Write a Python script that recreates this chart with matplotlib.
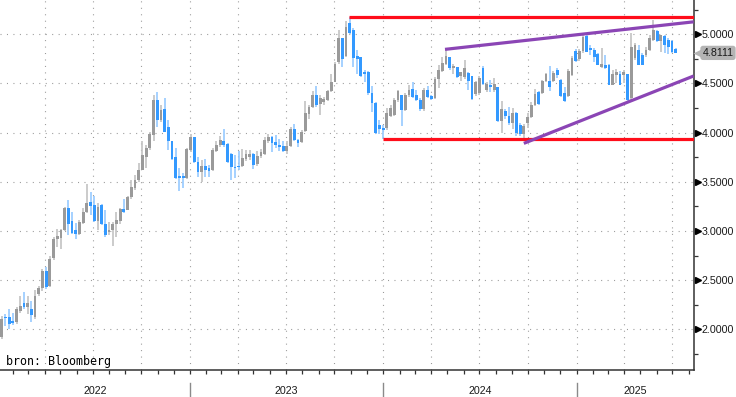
import matplotlib
matplotlib.use('Agg')
import matplotlib.pyplot as plt
import matplotlib.dates as mdates
from matplotlib.ticker import FixedLocator, FormatStrFormatter, NullFormatter
import numpy as np
import pandas as pd

plt.rcParams['lines.scale_dashes'] = False

# ---- weekly OHLC ----
opens = [1.92, 2.13, 2.12, 2.08, 2.07, 2.19, 2.27, 2.23, 2.21, 2.12,
         2.36, 2.42, 2.59, 2.44, 2.72, 2.92, 2.93, 3.01, 3.23, 3.10,
         3.01, 2.97, 3.08, 3.19, 3.29, 3.26, 3.10, 3.26, 3.07, 2.99,
         3.01, 3.07, 3.10, 3.22, 3.21, 3.35, 3.44, 3.52, 3.62, 3.75,
         3.84, 3.98, 4.33, 4.13, 4.24, 4.06, 3.92, 3.75, 3.56, 3.56,
         3.54, 3.82, 3.96, 3.70, 3.60, 3.66, 3.64, 3.62, 3.81, 3.87,
         3.91, 3.88, 3.78, 3.65, 3.66, 3.66, 3.73, 3.75, 3.78, 3.68,
         3.76, 3.78, 3.91, 3.96, 3.90, 3.87, 3.86, 3.81, 3.86, 4.04,
         3.93, 3.90, 4.02, 4.19, 4.26, 4.38, 4.29, 4.31, 4.33, 4.42,
         4.52, 4.72, 4.96, 4.78, 5.11, 5.04, 4.78, 4.77, 4.62, 4.62,
         4.40, 4.30, 4.08, 4.05, 4.05, 4.17, 4.18, 4.33, 4.38, 4.23,
         4.38, 4.44, 4.38, 4.33, 4.24, 4.43, 4.37, 4.35, 4.55, 4.63,
         4.70, 4.77, 4.66, 4.67, 4.58, 4.57, 4.61, 4.58, 4.39, 4.40,
         4.66, 4.43, 4.48, 4.43, 4.46, 4.12, 4.22, 4.17, 4.10, 4.20,
         4.08, 3.99, 4.10, 4.16, 4.28, 4.41, 4.40, 4.53, 4.53, 4.53,
         4.64, 4.54, 4.40, 4.37, 4.59, 4.83, 4.75, 4.83, 4.98, 4.86,
         4.84, 4.80, 4.67, 4.69, 4.69, 4.48, 4.59, 4.60, 4.59, 4.60,
         4.35, 4.76, 4.84, 4.79, 4.79, 4.84, 4.94, 5.03, 4.93, 4.98,
         4.94, 4.93, 4.85]
highs = [2.14, 2.16, 2.21, 2.17, 2.23, 2.34, 2.38, 2.34, 2.29, 2.40,
         2.44, 2.61, 2.63, 2.75, 2.94, 3.02, 3.02, 3.24, 3.31, 3.19,
         3.08, 3.11, 3.23, 3.48, 3.40, 3.36, 3.28, 3.27, 3.21, 3.09,
         3.09, 3.19, 3.23, 3.33, 3.36, 3.52, 3.57, 3.69, 3.91, 3.87,
         4.01, 4.38, 4.41, 4.28, 4.35, 4.13, 3.92, 3.84, 3.64, 3.59,
         3.84, 3.99, 3.96, 3.75, 3.72, 3.73, 3.67, 3.84, 3.92, 3.97,
         4.04, 3.89, 3.79, 3.77, 3.81, 3.83, 3.82, 3.82, 3.79, 3.81,
         3.83, 3.96, 3.99, 3.97, 3.98, 3.94, 3.91, 3.91, 4.06, 4.09,
         3.94, 4.03, 4.32, 4.28, 4.42, 4.47, 4.38, 4.36, 4.43, 4.60,
         4.72, 5.04, 4.96, 5.14, 5.18, 5.06, 4.84, 4.77, 4.64, 4.63,
         4.47, 4.31, 4.13, 4.08, 4.25, 4.28, 4.35, 4.43, 4.38, 4.40,
         4.48, 4.51, 4.43, 4.35, 4.45, 4.47, 4.38, 4.57, 4.69, 4.77,
         4.85, 4.77, 4.70, 4.67, 4.62, 4.74, 4.62, 4.58, 4.53, 4.58,
         4.68, 4.51, 4.54, 4.56, 4.46, 4.32, 4.24, 4.26, 4.25, 4.21,
         4.10, 4.09, 4.20, 4.31, 4.44, 4.42, 4.54, 4.61, 4.68, 4.63,
         4.66, 4.55, 4.46, 4.65, 4.78, 4.85, 4.85, 5.00, 4.99, 4.89,
         4.86, 4.81, 4.86, 4.79, 4.70, 4.64, 4.65, 4.63, 4.64, 4.60,
         5.01, 4.91, 4.89, 4.81, 4.87, 4.99, 5.15, 5.04, 4.99, 4.99,
         4.96, 4.94, 4.86]
lows = [1.90, 2.03, 2.00, 2.04, 2.05, 2.17, 2.21, 2.16, 2.07, 2.10,
        2.34, 2.39, 2.41, 2.43, 2.70, 2.84, 2.82, 3.00, 2.96, 2.97,
        2.92, 2.96, 3.07, 3.18, 3.16, 3.09, 3.01, 3.06, 2.94, 2.96,
        2.85, 2.94, 3.07, 3.18, 3.21, 3.33, 3.42, 3.50, 3.62, 3.64,
        3.82, 3.92, 4.06, 4.11, 4.01, 3.82, 3.72, 3.53, 3.41, 3.44,
        3.53, 3.80, 3.69, 3.55, 3.50, 3.55, 3.55, 3.61, 3.80, 3.85,
        3.85, 3.69, 3.52, 3.54, 3.62, 3.65, 3.71, 3.72, 3.63, 3.66,
        3.74, 3.77, 3.89, 3.80, 3.84, 3.81, 3.80, 3.78, 3.85, 3.91,
        3.85, 3.89, 4.01, 4.14, 4.25, 4.26, 4.18, 4.28, 4.32, 4.41,
        4.52, 4.70, 4.67, 4.77, 5.00, 4.67, 4.60, 4.57, 4.52, 4.38,
        4.21, 3.99, 3.99, 3.94, 4.03, 4.16, 4.17, 4.31, 4.07, 4.22,
        4.36, 4.35, 4.32, 4.22, 4.22, 4.35, 4.33, 4.34, 4.45, 4.62,
        4.69, 4.64, 4.60, 4.56, 4.53, 4.55, 4.43, 4.33, 4.37, 4.38,
        4.48, 4.41, 4.41, 4.41, 4.11, 4.00, 4.14, 4.08, 4.04, 3.97,
        3.97, 3.95, 4.05, 4.15, 4.27, 4.28, 4.39, 4.51, 4.42, 4.51,
        4.56, 4.36, 4.31, 4.36, 4.58, 4.72, 4.73, 4.81, 4.82, 4.79,
        4.72, 4.69, 4.66, 4.65, 4.48, 4.48, 4.50, 4.48, 4.50, 4.32,
        4.33, 4.74, 4.69, 4.69, 4.77, 4.83, 4.93, 4.92, 4.82, 4.81,
        4.80, 4.81, 4.81]
closes = [2.10, 2.11, 2.05, 2.06, 2.21, 2.24, 2.23, 2.27, 2.15, 2.34,
          2.42, 2.59, 2.43, 2.71, 2.92, 2.95, 3.01, 3.23, 3.07, 2.98,
          2.97, 3.09, 3.19, 3.28, 3.25, 3.10, 3.24, 3.07, 2.96, 3.01,
          3.07, 3.11, 3.22, 3.19, 3.35, 3.45, 3.52, 3.62, 3.77, 3.84,
          3.99, 4.33, 4.13, 4.23, 4.01, 3.92, 3.73, 3.54, 3.54, 3.54,
          3.83, 3.96, 3.70, 3.60, 3.66, 3.62, 3.61, 3.82, 3.87, 3.93,
          3.87, 3.70, 3.65, 3.64, 3.65, 3.74, 3.78, 3.78, 3.67, 3.76,
          3.80, 3.93, 3.96, 3.89, 3.87, 3.85, 3.81, 3.86, 4.04, 3.93,
          3.89, 4.01, 4.20, 4.26, 4.38, 4.28, 4.35, 4.34, 4.42, 4.52,
          4.70, 4.96, 4.75, 5.07, 5.01, 4.76, 4.75, 4.58, 4.60, 4.40,
          4.30, 4.00, 4.04, 4.03, 4.20, 4.25, 4.33, 4.42, 4.23, 4.38,
          4.43, 4.36, 4.33, 4.24, 4.43, 4.36, 4.34, 4.55, 4.64, 4.71,
          4.78, 4.66, 4.68, 4.57, 4.62, 4.66, 4.53, 4.34, 4.51, 4.56,
          4.49, 4.49, 4.46, 4.49, 4.12, 4.24, 4.17, 4.10, 4.20, 4.00,
          3.99, 4.07, 4.16, 4.28, 4.39, 4.29, 4.53, 4.60, 4.46, 4.61,
          4.59, 4.37, 4.32, 4.63, 4.76, 4.73, 4.83, 4.97, 4.82, 4.84,
          4.77, 4.69, 4.70, 4.66, 4.48, 4.60, 4.62, 4.48, 4.62, 4.33,
          4.87, 4.89, 4.69, 4.69, 4.84, 4.96, 5.04, 4.93, 4.99, 4.89,
          4.87, 4.82, 4.8111]
dates = pd.date_range('2022-01-10', periods=len(closes), freq='7D')

y_ticks = [2.0, 2.5, 3.0, 3.5, 4.0, 4.5, 5.0]
y_minor = [1.75, 2.25, 2.75, 3.25, 3.75, 4.25, 4.75, 5.25]
years = ['2022', '2023', '2024', '2025']
last_price = 4.8111

# resistance / support and channel lines (start date, start level, end date, end level)
red_top = ('2023-10-29', 5.18, '2025-08-11', 5.18)
red_bottom = ('2023-12-31', 3.94, '2025-08-11', 3.94)
purple_upper = ('2024-04-27', 4.847, '2025-08-10', 5.127)
purple_lower = ('2024-09-23', 3.891, '2025-08-10', 4.576)

x_start, x_end = '2022-01-06 19:00', '2025-08-10 17:00'

# ---- figure ----
fig = plt.figure(figsize=(7.36, 3.97), dpi=100)
ax = fig.add_axes([0, 27 / 397, 694 / 736, 370 / 397])

o = np.array(opens); h = np.array(highs); l = np.array(lows); c = np.array(closes)
x = mdates.date2num(dates)
up = c >= o

wick_cols = np.where(up, '#c2c2c2', '#96c9ff')
body_cols = np.where(up, '#9a9a9a', '#3399ff')
ax.vlines(x, l, h, colors=wick_cols, linewidth=1.2, zorder=3)
ax.bar(x, np.maximum(np.abs(c - o), 0.014), bottom=np.minimum(o, c), width=5.3,
       color=body_cols, linewidth=0, zorder=4)

def seg(s, col):
    ax.plot(mdates.date2num(pd.to_datetime([s[0], s[2]])), [s[1], s[3]],
            color=col, lw=2.3, solid_capstyle='butt', zorder=5)

seg(red_top, '#ff0d1a')
seg(red_bottom, '#ff0d1a')
seg(purple_upper, '#8b45b5')
seg(purple_lower, '#8b45b5')

ax.set_xlim(mdates.date2num(pd.Timestamp(x_start)), mdates.date2num(pd.Timestamp(x_end)))
ax.set_ylim(1.586, 5.349)

# grid
dots = (0, (0.75, 3.9))
ax.xaxis.set_major_locator(mdates.MonthLocator(bymonth=[1, 4, 7, 10]))
ax.xaxis.set_minor_locator(mdates.MonthLocator())
ax.xaxis.set_major_formatter(NullFormatter())
ax.grid(True, which='major', axis='both', color='#9a9a9a', linewidth=0.8, linestyle=dots, zorder=0)
ax.tick_params(axis='x', which='both', direction='out', length=3, width=0.9, color='#333333')

ax.yaxis.tick_right()
ax.yaxis.set_major_locator(FixedLocator(y_ticks))
ax.yaxis.set_minor_locator(FixedLocator(y_minor))
ax.yaxis.set_major_formatter(FormatStrFormatter('%.4f'))
ax.tick_params(axis='y', which='major', length=0, pad=5.5, labelsize=7.7, labelcolor='#1a1a1a')
ax.tick_params(axis='y', which='minor', length=3, width=0.9, color='#333333', direction='out')
for lab in ax.get_yticklabels():
    lab.set_fontfamily('Liberation Sans')

for s in ['top', 'left']:
    ax.spines[s].set_visible(False)
for s in ['right', 'bottom']:
    ax.spines[s].set_color('#333333')
    ax.spines[s].set_linewidth(1.1)

ytr = ax.get_yaxis_transform()
# tick arrows on right axis
ax.plot(np.full(len(y_ticks), 1 + 4 / 694), y_ticks, marker='>', ms=4.2, color='black',
        ls='none', transform=ytr, clip_on=False, zorder=6)

# last price tag: pointer + rounded box
ax.plot([1 + 5 / 694], [last_price], marker='<', ms=8, color='#b4b4b4', mec='none',
        ls='none', transform=ytr, clip_on=False, zorder=7)
ax.text(1 + 8.5 / 694, last_price, f'{last_price:.4f}', transform=ytr,
        ha='left', va='center', fontsize=7.7, family='Liberation Sans', color='#1a1a1a',
        bbox=dict(boxstyle='round,pad=0.2,rounding_size=0.25', fc='#b4b4b4', ec='none'),
        clip_on=False, zorder=8)

# year labels and separators
xt = ax.get_xaxis_transform()
xmin, xmax = ax.get_xlim()
for i, yr in enumerate(years):
    a = mdates.date2num(pd.Timestamp(f'{yr}-01-01'))
    b = mdates.date2num(pd.Timestamp(f'{int(yr) + 1}-01-01'))
    a_v, b_v = max(a, xmin), min(b, xmax)
    ax.text((a_v + b_v) / 2, -21 / 370, yr, transform=xt, ha='center', va='center',
            fontsize=7.7, family='Liberation Sans', color='#1a1a1a')
    if i > 0:
        ax.plot([a, a], [-13 / 370, -27 / 370], transform=xt, color='#8a8a8a', lw=1.0, clip_on=False)

ax.text(6 / 694, 5 / 370, 'bron: Bloomberg', transform=ax.transAxes, ha='left', va='baseline',
        fontsize=8.4, family='DejaVu Sans Mono', color='black', zorder=8)

fig.savefig('out.png', dpi=100)
